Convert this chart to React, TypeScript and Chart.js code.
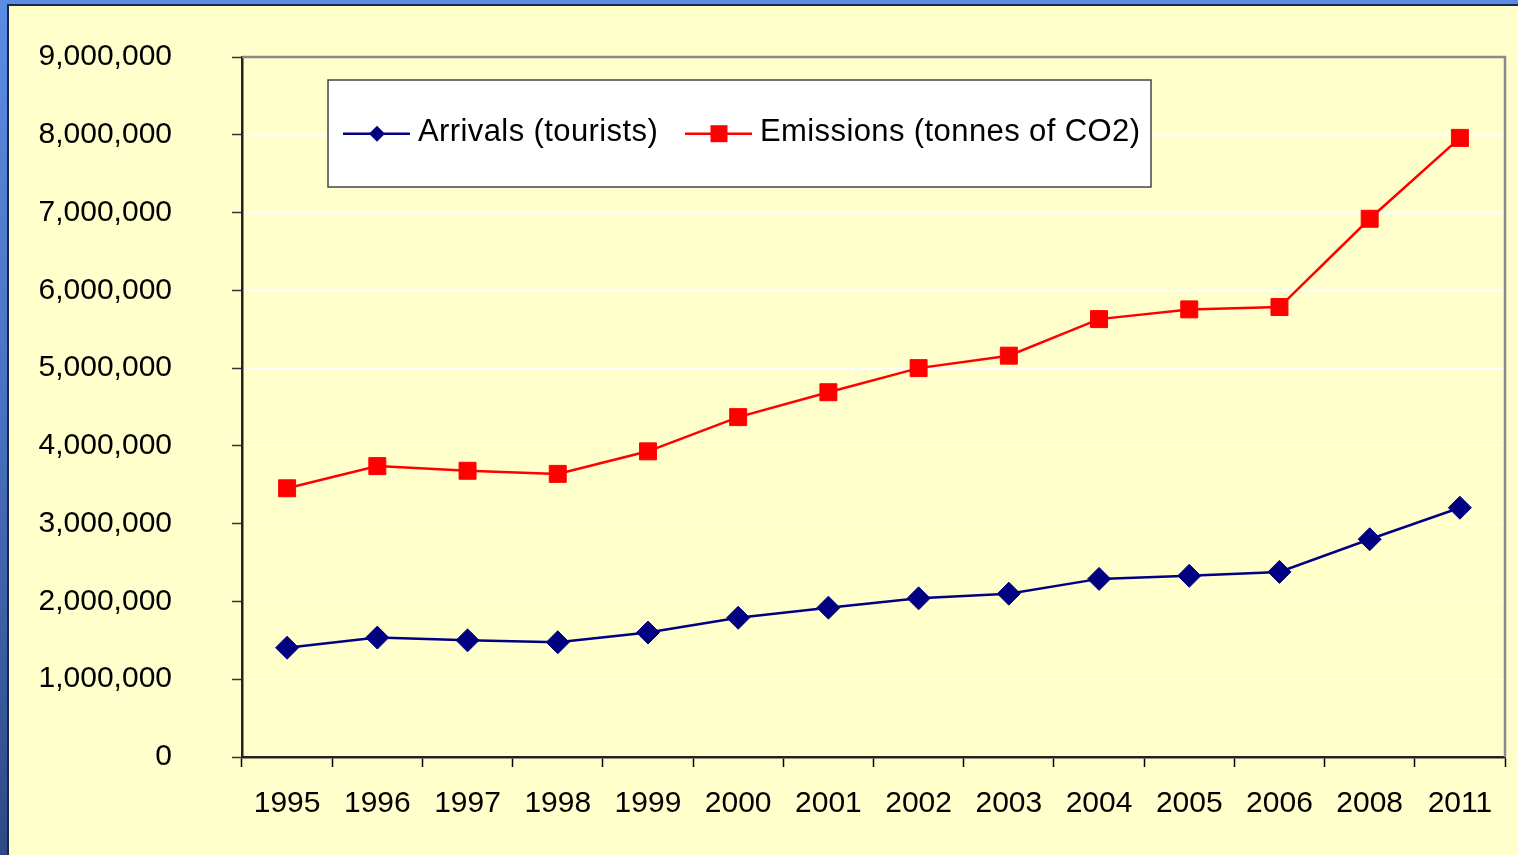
import React, { useEffect, useRef } from 'react';
import { Chart, registerables } from 'chart.js';

Chart.register(...registerables);

// Yearly series
const years = ['1995', '1996', '1997', '1998', '1999', '2000', '2001', '2002', '2003', '2004', '2005', '2006', '2008', '2011'];
const arrivals = [1405000, 1535000, 1500000, 1475000, 1600000, 1790000, 1920000, 2040000, 2100000, 2290000, 2330000, 2380000, 2800000, 3205000];
const emissions = [3455000, 3740000, 3680000, 3640000, 3930000, 4370000, 4690000, 5000000, 5160000, 5630000, 5755000, 5785000, 6920000, 7960000];

const arrivalsLabel = 'Arrivals (tourists)';
const emissionsLabel = 'Emissions (tonnes of CO2)';

const yMin = 0;
const yMax = 9000000;
const yStep = 1000000;

const FONT = '"Liberation Sans", Arial, Helvetica, sans-serif';
const NAVY = '#000080';
const RED = '#FF0000';

// Gray frame on the top and right edges of the plot area
const plotFrame = {
  id: 'plotFrame',
  beforeDatasetsDraw(chart: any) {
    const { ctx, chartArea } = chart;
    const { left, top, right, bottom } = chartArea;
    ctx.save();
    ctx.strokeStyle = '#8a8a8a';
    ctx.lineWidth = 2.5;
    ctx.beginPath();
    ctx.moveTo(left, top);
    ctx.lineTo(right, top);
    ctx.lineTo(right, bottom);
    ctx.stroke();
    ctx.restore();
  },
};

// Boxed legend inside the plot area
const boxedLegend = {
  id: 'boxedLegend',
  afterDatasetsDraw(chart: any) {
    const { ctx, chartArea } = chart;
    const bx = chartArea.left + 86;
    const by = chartArea.top + 23;
    const bw = 823;
    const bh = 107;
    ctx.save();
    ctx.fillStyle = '#FFFFFF';
    ctx.fillRect(bx, by, bw, bh);
    ctx.strokeStyle = '#444444';
    ctx.lineWidth = 1.5;
    ctx.strokeRect(bx, by, bw, bh);

    const lineY = by + 53.7;
    const baseY = by + 60.7;
    const items = [
      { ds: chart.data.datasets[0], x: bx + 15 },
      { ds: chart.data.datasets[1], x: bx + 357 },
    ];
    ctx.font = `31px ${FONT}`;
    (ctx as any).letterSpacing = '0.4px';
    ctx.textBaseline = 'alphabetic';
    ctx.textAlign = 'left';
    items.forEach(({ ds, x }) => {
      const color = ds.borderColor;
      ctx.strokeStyle = color;
      ctx.lineWidth = ds.borderWidth;
      ctx.beginPath();
      ctx.moveTo(x, lineY);
      ctx.lineTo(x + 67, lineY);
      ctx.stroke();
      const cx = x + 34;
      ctx.fillStyle = color;
      ctx.beginPath();
      if (ds.pointStyle === 'rectRot') {
        const r = 8;
        ctx.moveTo(cx - r, lineY);
        ctx.lineTo(cx, lineY - r);
        ctx.lineTo(cx + r, lineY);
        ctx.lineTo(cx, lineY + r);
        ctx.closePath();
      } else {
        const s = 8.5;
        ctx.rect(cx - s, lineY - s, 2 * s, 2 * s);
      }
      ctx.fill();
      ctx.fillStyle = '#000000';
      ctx.fillText(ds.label, x + 75, baseY);
    });
    ctx.restore();
  },
};

export default function App() {
  const canvasRef = useRef<HTMLCanvasElement | null>(null);

  useEffect(() => {
    document.body.style.margin = '0';
    const canvas = canvasRef.current;
    if (!canvas) return;
    const chart = new Chart(canvas, {
      type: 'line',
      data: {
        labels: years,
        datasets: [
          {
            label: arrivalsLabel,
            data: arrivals,
            borderColor: NAVY,
            backgroundColor: NAVY,
            borderWidth: 2.5,
            pointStyle: 'rectRot',
            pointRadius: 11.5,
            pointBorderWidth: 1,
            pointBackgroundColor: NAVY,
            pointBorderColor: NAVY,
            tension: 0,
          },
          {
            label: emissionsLabel,
            data: emissions,
            borderColor: RED,
            backgroundColor: RED,
            borderWidth: 2.5,
            pointStyle: 'rect',
            pointRadius: 12,
            pointBorderWidth: 1,
            pointBackgroundColor: RED,
            pointBorderColor: RED,
            tension: 0,
          },
        ],
      },
      options: {
        responsive: false,
        animation: false,
        layout: { padding: { left: 0, top: 51, right: 12, bottom: 0 } },
        plugins: {
          legend: { display: false },
          tooltip: { enabled: false },
        },
        scales: {
          x: {
            offset: true,
            grid: {
              offset: true,
              drawOnChartArea: false,
              drawTicks: true,
              tickLength: 10,
              tickColor: '#000000',
              tickWidth: 1.5,
            },
            border: { color: '#222222', width: 2.5 },
            ticks: {
              color: '#000000',
              font: { family: FONT, size: 30 },
              padding: 19,
              maxRotation: 0,
              autoSkip: false,
            },
            afterFit(scale: any) {
              scale.height = 98;
              scale.paddingLeft = 0;
              scale.paddingRight = 0;
            },
          },
          y: {
            min: yMin,
            max: yMax,
            grid: {
              color: '#FFFFFF',
              lineWidth: 1,
              drawTicks: true,
              tickLength: 10,
              tickColor: '#333333',
              tickWidth: 1.5,
            },
            border: { color: '#222222', width: 2.5 },
            ticks: {
              stepSize: yStep,
              color: '#000000',
              font: { family: FONT, size: 30 },
              padding: 60,
              callback: (v: any) => Number(v).toLocaleString('en-US'),
            },
            afterFit(scale: any) {
              scale.width = 233;
              scale.paddingTop = 0;
              scale.paddingBottom = 0;
            },
          },
        },
      },
      plugins: [plotFrame, boxedLegend],
    });
    return () => chart.destroy();
  }, []);

  return (
    <div
      style={{
        position: 'fixed',
        left: 0,
        top: 0,
        width: 1518,
        height: 855,
        background: 'linear-gradient(to bottom, #5b8ce4 0%, #4870c0 50%, #2d4a86 100%)',
        overflow: 'hidden',
      }}
    >
      <div
        style={{
          position: 'absolute',
          left: 7,
          top: 4,
          width: 1509,
          height: 849,
          background: '#FFFFCC',
          borderLeft: '2px solid #1b2747',
          borderTop: '2px solid #1b2747',
        }}
      >
        <canvas ref={canvasRef} width={1509} height={849} style={{ display: 'block' }} />
      </div>
    </div>
  );
}
